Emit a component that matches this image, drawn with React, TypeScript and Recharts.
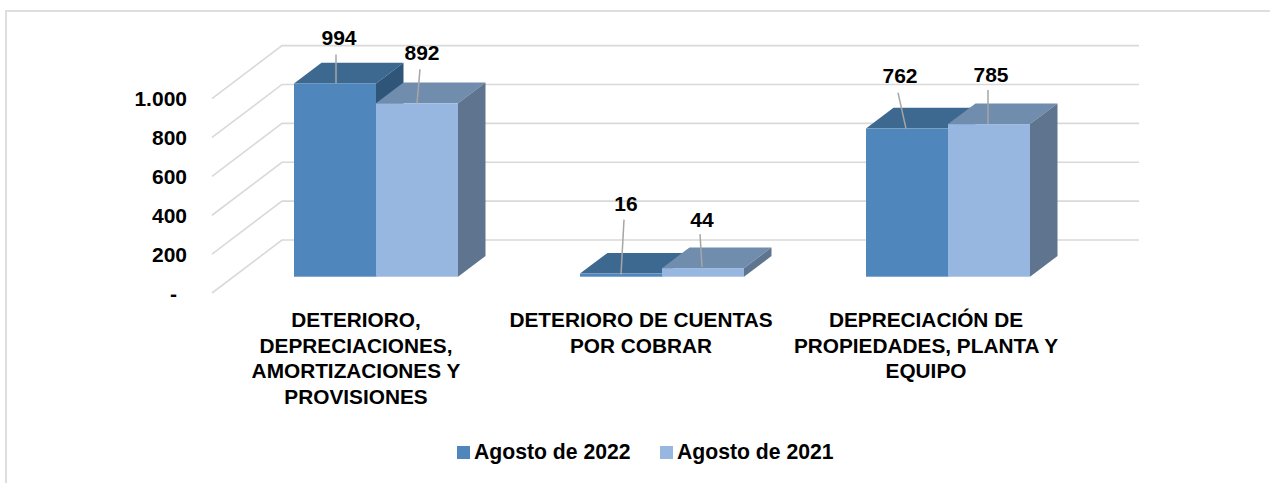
import React from 'react';
import { BarChart, Bar, XAxis, YAxis, CartesianGrid, Legend, LabelList } from 'recharts';

const CATEGORIES = [
  ['DETERIORO,', 'DEPRECIACIONES,', 'AMORTIZACIONES Y', 'PROVISIONES'],
  ['DETERIORO DE CUENTAS', 'POR COBRAR'],
  ['DEPRECIACIÓN DE', 'PROPIEDADES, PLANTA Y', 'EQUIPO'],
];
const AGOSTO_2022 = [994, 16, 762];
const AGOSTO_2021 = [892, 44, 785];
const TICKS = [0, 200, 400, 600, 800, 1000];

const data = CATEGORIES.map((lines, i) => ({
  name: lines.join(' '),
  lines,
  'Agosto de 2022': AGOSTO_2022[i],
  'Agosto de 2021': AGOSTO_2021[i],
}));

const FONT = '"Liberation Sans", Arial, sans-serif';

// bar depth
const DX = 27.5;
const DY = 20.7;

const COLORS_2022 = { front: '#4F87BD', top: '#3D6890', side: '#2F5679' };
const COLORS_2021 = { front: '#97B6E0', top: '#718DAE', side: '#5F758F' };

// label placement tweaks: [text dx, text dy, leader start dx, leader start dy, leader end dx, leader end dy]
const LABELS_2022 = [
  [4, -46, 1, -29, 1, 0],
  [5, -70, 3, -54, 0, 1],
  [-7, -53, -9, -36, -1, 0],
];
const LABELS_2021 = [
  [5, -51, 3, -34, 0, 0],
  [-1, -49, -3, -34, -1, -1],
  [2, -50, -1, -34, -1, 0],
];

// the x labels are not centred under their groups in the original
const X_LABEL_SHIFT = [-20, -21, -22];

const Bar3D = (colors: { front: string; top: string; side: string }) => (props: any) => {
  const { x, y, width, height } = props;
  const r = x + width;
  const b = y + height;
  return (
    <g>
      <polygon points={`${x},${y} ${x + DX},${y - DY} ${r + DX},${y - DY} ${r},${y}`} fill={colors.top} />
      <polygon points={`${r},${y} ${r + DX},${y - DY} ${r + DX},${b - DY} ${r},${b}`} fill={colors.side} />
      <rect x={x} y={y} width={width} height={height} fill={colors.front} />
    </g>
  );
};

// wall line: slanted side wall, then across the back wall
const WallLine = (props: any) => {
  const { x1, x2, y1 } = props;
  const points = `${x1 - 21},${y1 + 16.3} ${x1 + 49},${y1 - 36.7} ${x2 + 48},${y1 - 36.7}`;
  return <polyline points={points} fill="none" stroke="#D9D9D9" strokeWidth={1.6} />;
};

const YTick = (props: any) => {
  const { x, y, payload } = props;
  const label = payload.value === 0 ? '-' : payload.value.toLocaleString('es-CO').replace(',', '.');
  return (
    <text x={x - 40} y={y + 16.5} dy={7.5} textAnchor="end" fontFamily={FONT} fontSize={21} fontWeight="bold" fill="#000">
      {payload.value === 0 ? <tspan dx={-10}>{label}</tspan> : label}
    </text>
  );
};

const XTick = (props: any) => {
  const { x, payload, index } = props;
  const lines = CATEGORIES[index] ?? [payload.value];
  return (
    <text textAnchor="middle" fontFamily={FONT} fontSize={20.8} fontWeight="bold" fill="#000">
      {lines.map((line, i) => (
        <tspan key={i} x={x + X_LABEL_SHIFT[index]} y={327 + i * 25.7}>
          {line}
        </tspan>
      ))}
    </text>
  );
};

const DataLabel = (offsets: number[][]) => (props: any) => {
  const { x, y, width, value, index } = props;
  const cx = x + width / 2;
  const [tx, ty, sx, sy, ex, ey] = offsets[index];
  return (
    <g>
      <line x1={cx + sx} y1={y + sy} x2={cx + ex} y2={y + ey} stroke="#A6A6A6" strokeWidth={1.5} />
      <text x={cx + tx} y={y + ty} dy={7.5} textAnchor="middle" fontFamily={FONT} fontSize={21} fontWeight="bold" fill="#000">
        {value}
      </text>
    </g>
  );
};

const LegendContent = () => (
  <div style={{ position: 'relative', height: 30, fontFamily: FONT, fontSize: 21.2, fontWeight: 'bold', color: '#000' }}>
    <span style={{ position: 'absolute', left: 457, top: 9, width: 13, height: 13, background: COLORS_2022.front }} />
    <span style={{ position: 'absolute', left: 474, top: 3, whiteSpace: 'nowrap' }}>Agosto de 2022</span>
    <span style={{ position: 'absolute', left: 660, top: 9, width: 13, height: 13, background: COLORS_2021.front }} />
    <span style={{ position: 'absolute', left: 677, top: 3, whiteSpace: 'nowrap' }}>Agosto de 2021</span>
  </div>
);

export default function App() {
  return (
    <div style={{ position: 'absolute', left: 0, top: 0, width: 1270, height: 483, background: '#fff', overflow: 'hidden' }}>
      <div
        style={{
          position: 'absolute',
          left: 5,
          top: 10,
          width: 1265,
          height: 473,
          borderTop: '2px solid #DEDEDE',
          borderLeft: '2px solid #DEDEDE',
          boxSizing: 'border-box',
        }}
      />
      <BarChart
        width={1270}
        height={483}
        data={data}
        barGap={0}
        barSize={82}
        margin={{ top: 82.3, right: 179, left: 0, bottom: 26.3 }}
      >
        <CartesianGrid horizontal={WallLine} vertical={false} />
        <XAxis dataKey="name" height={150} axisLine={false} tickLine={false} interval={0} tick={XTick} />
        <YAxis width={233} domain={[0, 1000]} ticks={TICKS} axisLine={false} tickLine={false} tickMargin={0} tick={YTick} />
        <Legend height={30} verticalAlign="bottom" wrapperStyle={{ left: 0, bottom: 16, width: 1270 }} content={LegendContent} />
        <Bar dataKey="Agosto de 2022" fill={COLORS_2022.front} shape={Bar3D(COLORS_2022)} isAnimationActive={false}>
          <LabelList dataKey="Agosto de 2022" content={DataLabel(LABELS_2022)} />
        </Bar>
        <Bar dataKey="Agosto de 2021" fill={COLORS_2021.front} shape={Bar3D(COLORS_2021)} isAnimationActive={false}>
          <LabelList dataKey="Agosto de 2021" content={DataLabel(LABELS_2021)} />
        </Bar>
      </BarChart>
    </div>
  );
}
